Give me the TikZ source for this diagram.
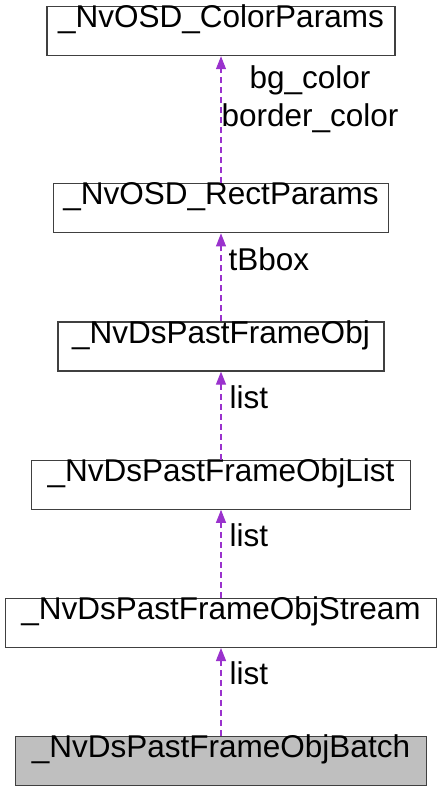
\documentclass[tikz,border=0pt]{standalone}
\usepackage{fontspec}
\setmainfont{Liberation Sans}
\usepackage{xcolor}
\usetikzlibrary{arrows.meta,positioning}
\definecolor{dep}{HTML}{9A32CD}
\definecolor{edge}{HTML}{404040}
\tikzset{
  cls/.style ={draw=edge, line width=1.2pt, inner sep=0pt, text height=21pt, text depth=28pt, font=\fontsize{31.5}{36}\selectfont},
  cur/.style ={cls, fill=black!25},
  usage/.style={dep, line width=1.1pt, dash pattern=on 6pt off 4pt, -{Triangle[length=13pt, width=10pt]}},
  lbl/.style ={text=black, font=\fontsize{31.5}{38}\selectfont, align=center, anchor=west, inner sep=0pt},
}
\begin{document}
\begin{tikzpicture}[node distance=88pt]
  \useasboundingbox (0,0) rectangle (440pt,-792pt);
  \node[cls, minimum width=348pt, anchor=north] (color) at (221pt,-6pt) {\_NvOSD\_ColorParams};
  \node[cls, minimum width=335pt, below=127pt of color] (rect) {\_NvOSD\_RectParams};
  \node[cls, minimum width=326pt, below=of rect] (obj) {\_NvDsPastFrameObj};
  \node[cls, minimum width=379pt, below=of obj] (objlist) {\_NvDsPastFrameObjList};
  \node[cls, minimum width=431pt, below=of objlist] (stream) {\_NvDsPastFrameObjStream};
  \node[cur, minimum width=411pt, below=of stream] (batch) {\_NvDsPastFrameObjBatch};
  \draw[usage] (rect.north) -- (color.south) node[lbl, pos=0.66, xshift=0pt] {bg\_color\\border\_color};
  \draw[usage] (obj.north) -- (rect.south) node[lbl, pos=0.71, xshift=7pt] {tBbox};
  \draw[usage] (objlist.north) -- (obj.south) node[lbl, pos=0.71, xshift=8pt] {list};
  \draw[usage] (stream.north) -- (objlist.south) node[lbl, pos=0.71, xshift=8pt] {list};
  \draw[usage] (batch.north) -- (stream.south) node[lbl, pos=0.71, xshift=8pt] {list};
\end{tikzpicture}
\end{document}
